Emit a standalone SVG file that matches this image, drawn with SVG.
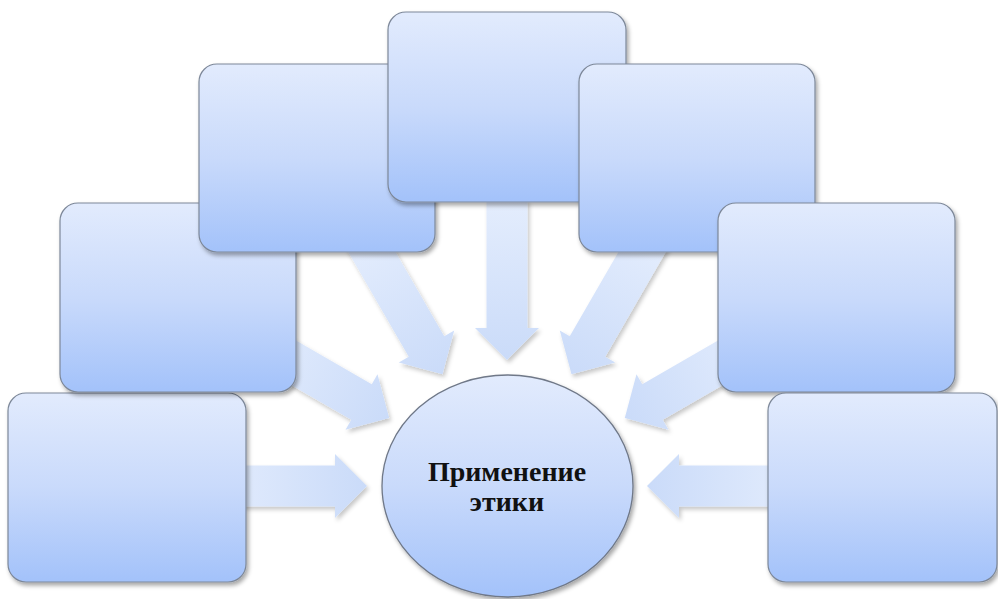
<svg xmlns="http://www.w3.org/2000/svg" width="998" height="599" viewBox="0 0 998 599">
<style>
.box{fill:url(#gBox);stroke:#7d8899;stroke-width:1.2}
.arr{fill:url(#gArr)}
.lbl{font-family:"Liberation Serif","Times New Roman",serif;font-weight:bold;font-size:28px;fill:#111;text-anchor:middle}
</style>
<defs>
<linearGradient id="gBox" x1="0" y1="0" x2="0" y2="1">
<stop offset="0" stop-color="#e2ebfd"/>
<stop offset="0.5" stop-color="#c9dafb"/>
<stop offset="1" stop-color="#a3c2fa"/>
</linearGradient>
<linearGradient id="gArr" x1="0" y1="0" x2="1" y2="0">
<stop offset="0" stop-color="#e4edfd"/>
<stop offset="1" stop-color="#cadbf9"/>
</linearGradient>
<filter id="sh" x="-10%" y="-10%" width="125%" height="125%">
<feDropShadow dx="2" dy="3" stdDeviation="2" flood-color="#000" flood-opacity="0.35"/>
</filter>
<filter id="shA" x="-20%" y="-20%" width="140%" height="140%">
<feDropShadow dx="2" dy="3" stdDeviation="2" flood-color="#000" flood-opacity="0.22"/>
</filter>
<path id="arrow" d="M0,0 L-32,-32 L-32,-20.5 L-160,-20.5 L-160,20.5 L-32,20.5 L-32,32 Z"/>
</defs>
<rect width="998" height="599" fill="#fff"/>
<g id="connectors">
<g filter="url(#shA)"><use href="#arrow" class="arr" transform="translate(507,486) rotate(0) translate(-140,0)"/></g>
<g filter="url(#shA)"><use href="#arrow" class="arr" transform="translate(507,486) rotate(30) translate(-136,0)"/></g>
<g filter="url(#shA)"><use href="#arrow" class="arr" transform="translate(507,486) rotate(60) translate(-129,0)"/></g>
<g filter="url(#shA)"><use href="#arrow" class="arr" transform="translate(507,486) rotate(90) translate(-126,0)"/></g>
<g filter="url(#shA)"><use href="#arrow" class="arr" transform="translate(507,486) rotate(120) translate(-129,0)"/></g>
<g filter="url(#shA)"><use href="#arrow" class="arr" transform="translate(507,486) rotate(150) translate(-136,0)"/></g>
<g filter="url(#shA)"><use href="#arrow" class="arr" transform="translate(507,486) rotate(180) translate(-140,0)"/></g>
</g>
<g id="box1" filter="url(#sh)"><rect class="box" x="8" y="393" width="238" height="189" rx="18"/></g>
<g id="box2" filter="url(#sh)"><rect class="box" x="60" y="203" width="236" height="189" rx="18"/></g>
<g id="box3" filter="url(#sh)"><rect class="box" x="199" y="64" width="236" height="188" rx="18"/></g>
<g id="box4" filter="url(#sh)"><rect class="box" x="388" y="12" width="238" height="190" rx="18"/></g>
<g id="box5" filter="url(#sh)"><rect class="box" x="579" y="64" width="236" height="188" rx="18"/></g>
<g id="box6" filter="url(#sh)"><rect class="box" x="718" y="203" width="237" height="189" rx="18"/></g>
<g id="box7" filter="url(#sh)"><rect class="box" x="768" y="393" width="229" height="189" rx="18"/></g>
<g id="center">
<ellipse cx="507.5" cy="486" rx="125.5" ry="111" fill="url(#gBox)" stroke="#6f7888" stroke-width="1.3" filter="url(#sh)"/>
<text class="lbl" x="507" y="481">Применение</text>
<text class="lbl" x="507" y="511">этики</text>
</g>
</svg>
